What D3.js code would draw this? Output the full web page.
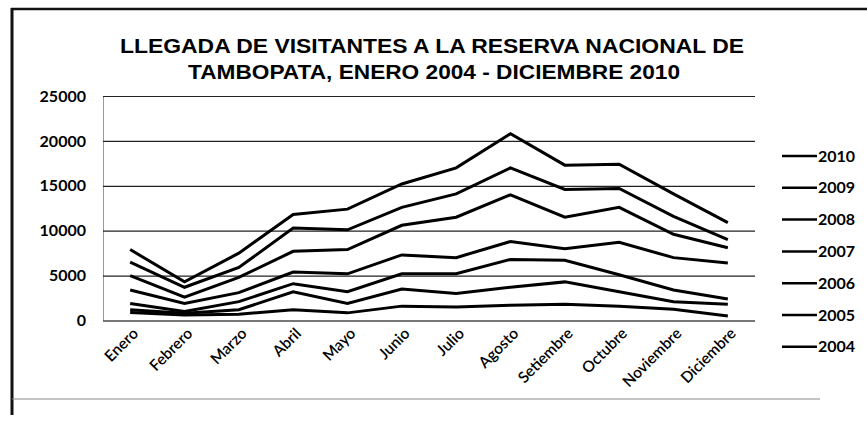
<!DOCTYPE html>
<html>
<head>
<meta charset="utf-8">
<script src="https://cdn.jsdelivr.net/npm/d3@7"></script>
<style>
  body { margin: 0; background: #fff; }
  text { fill: #000; }
</style>
</head>
<body>
<svg id="chart" width="867" height="421"></svg>
<script>
// months on the x axis
const months = ["Enero", "Febrero", "Marzo", "Abril", "Mayo", "Junio", "Julio",
                "Agosto", "Setiembre", "Octubre", "Noviembre", "Diciembre"];
const years = ["2010", "2009", "2008", "2007", "2006", "2005", "2004"];
const yTicks = [0, 5000, 10000, 15000, 20000, 25000];

// visitors per month
const v2010 = [7900, 4300, 7500, 11800, 12400, 15200, 17000, 20800, 17300, 17400, 14100, 10900];
const v2009 = [6500, 3700, 5900, 10300, 10100, 12600, 14100, 17000, 14600, 14700, 11600, 9000];
const v2008 = [5000, 2600, 4800, 7700, 7900, 10600, 11500, 14000, 11500, 12600, 9600, 8100];
const v2007 = [3400, 1900, 3100, 5400, 5200, 7300, 7000, 8800, 8000, 8700, 7000, 6400];
const v2006 = [1900, 1000, 2100, 4100, 3200, 5200, 5200, 6800, 6700, 5100, 3400, 2400];
const v2005 = [1200, 800, 1200, 3200, 1900, 3500, 3000, 3700, 4300, 3200, 2100, 1800];
const v2004 = [900, 600, 700, 1200, 850, 1600, 1500, 1700, 1800, 1600, 1250, 500];

const series = [v2010, v2009, v2008, v2007, v2006, v2005, v2004];

let svg = d3.select("#chart");

const plot = {left: 103, right: 755, top: 96, bottom: 320.5};
const fontTick = "Lato, 'Open Sans', sans-serif";

// outer frame of the scanned figure
svg.append("line").attr("x1", 11).attr("x2", 867).attr("y1", 9).attr("y2", 9)
    .attr("stroke", "#111").attr("stroke-width", 2.5);
svg.append("line").attr("x1", 12).attr("x2", 12).attr("y1", 8).attr("y2", 415)
    .attr("stroke", "#111").attr("stroke-width", 3);
svg.append("line").attr("x1", 12).attr("x2", 820).attr("y1", 399).attr("y2", 399)
    .attr("stroke", "#888").attr("stroke-width", 1.2);

// title
const title = svg.append("g").attr("font-family", "'Liberation Sans Narrow', 'Liberation Sans', Arial, sans-serif")
    .attr("font-weight", "bold").attr("font-size", 21).attr("text-anchor", "middle");
title.append("text").attr("x", 432).attr("y", 53)
    .attr("textLength", 624).attr("lengthAdjust", "spacingAndGlyphs")
    .text("LLEGADA DE VISITANTES A LA RESERVA  NACIONAL DE");
title.append("text").attr("x", 434).attr("y", 79)
    .attr("textLength", 492).attr("lengthAdjust", "spacingAndGlyphs")
    .text("TAMBOPATA, ENERO 2004 - DICIEMBRE 2010");

var x = d3.scaleBand()
    .domain(months)
    .range([plot.left, plot.right])
    .padding(0);

var y = d3.scaleLinear()
    .domain([0, 25000])
    .range([plot.bottom, plot.top]);

// gridlines + y labels
svg.append("g")
    .attr("transform", `translate(${plot.left},0)`)
    .call(d3.axisLeft(y).tickValues(yTicks).tickSize(-(plot.right - plot.left)).tickPadding(17).tickFormat(d3.format("d")))
    .call(g => g.select(".domain").attr("stroke", "#999").attr("stroke-width", 1))
    .call(g => g.selectAll(".tick line").attr("stroke", "#222").attr("stroke-width", 1.2))
    .call(g => g.selectAll(".tick text").attr("font-family", fontTick).attr("font-size", 16)
        .attr("font-weight", "bold").attr("fill", "#111"));

// x labels, rotated
svg.append("g")
    .attr("transform", `translate(0,${plot.bottom})`)
    .call(d3.axisBottom(x).tickSize(0).tickPadding(0))
    .call(g => g.select(".domain").remove())
    .call(g => g.selectAll(".tick text")
        .attr("font-family", fontTick).attr("font-size", 15.5).attr("font-weight", 600).attr("fill", "#111")
        .attr("text-anchor", "end")
        .attr("dy", 0)
        .attr("transform", "translate(9,14) rotate(-45)"));

// one line per year
const line = d3.line()
    .x((d, i) => x(months[i]) + x.bandwidth() / 2)
    .y(d => y(d));

svg.append("g").selectAll("path")
    .data(series)
    .enter()
    .append("path")
    .attr("d", line)
    .attr("fill", "none")
    .attr("stroke", "#000")
    .attr("stroke-width", 3)
    .attr("stroke-linejoin", "miter");

// legend
const legend = svg.append("g").selectAll("g")
    .data(years)
    .enter()
    .append("g")
    .attr("transform", (d, i) => `translate(782,${156 + i * 31.8})`);
legend.append("line").attr("x1", 0).attr("x2", 35).attr("y1", 0).attr("y2", 0)
    .attr("stroke", "#000").attr("stroke-width", 2.5);
legend.append("text").attr("x", 36).attr("y", 0).attr("dy", "0.35em")
    .attr("font-family", fontTick).attr("font-size", 16).attr("font-weight", "bold")
    .text(d => d);
</script>
</body>
</html>
